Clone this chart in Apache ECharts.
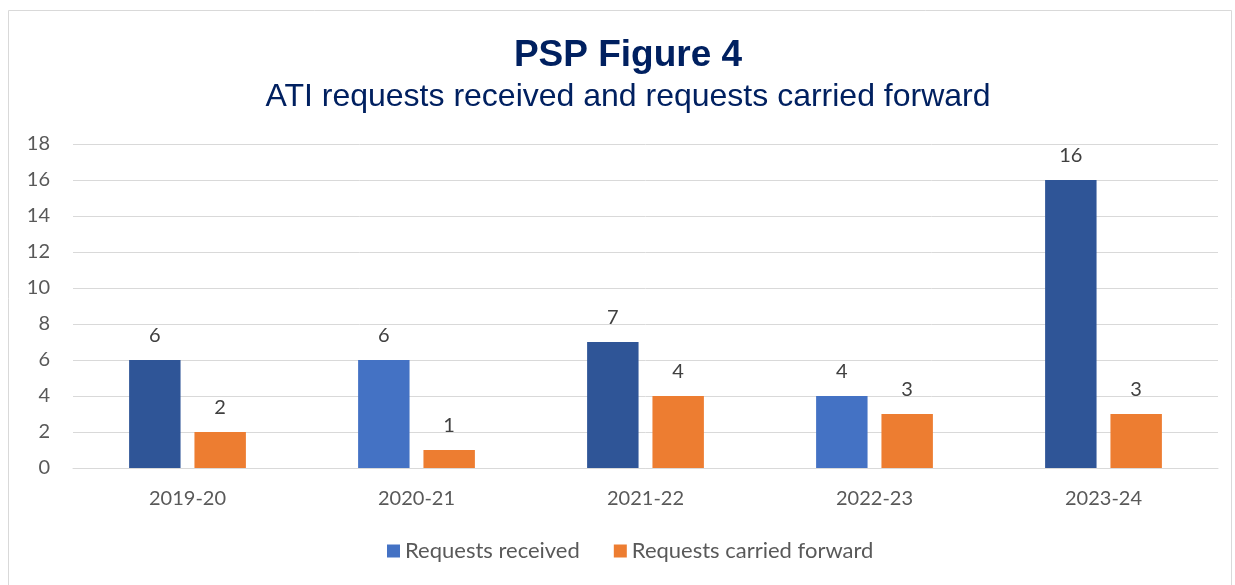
<!DOCTYPE html>
<html>
<head>
<meta charset="utf-8">
<script src="https://cdn.jsdelivr.net/npm/echarts@6/dist/echarts.min.js"></script>
<style>
  html, body { margin: 0; padding: 0; background: #fff; }
  #container { width: 1235px; height: 585px; }
</style>
</head>
<body>
<div id="container"></div>
<script>
// data
const years = ['2019-20', '2020-21', '2021-22', '2022-23', '2023-24']
const received = [6, 6, 7, 4, 16]
const carriedForward = [2, 1, 4, 3, 3]
// the received bars alternate dark / light blue in the original
const receivedColors = ['#2F5597', '#4472C4', '#2F5597', '#4472C4', '#2F5597']

let chart = echarts.init(document.getElementById('container'))
const font = 'Lato, "Open Sans", sans-serif'

chart.setOption({
  animation: false,
  textStyle: { fontFamily: font },
  graphic: [{
    type: 'rect',
    shape: { x: 8.5, y: 10.5, width: 1223, height: 620 },
    style: { fill: 'none', stroke: '#d9d9d9', lineWidth: 1 },
    silent: true
  }],
  title: [
    {
      text: 'PSP Figure 4',
      left: 623, top: 32, textAlign: 'center',
      textStyle: { fontFamily: '"Liberation Sans", Arial, sans-serif', fontSize: 37, fontWeight: 'bold', color: '#002060' }
    },
    {
      text: 'ATI requests received and requests carried forward',
      left: 623, top: 76, textAlign: 'center',
      textStyle: { fontFamily: '"Liberation Sans", Arial, sans-serif', fontSize: 32, fontWeight: 'normal', color: '#002060' }
    }
  ],
  legend: {
    bottom: 18,
    left: 382,
    itemWidth: 13, itemHeight: 13,
    itemGap: 34,
    icon: 'rect',
    textStyle: { fontSize: 22, color: '#595959', fontFamily: font },
    data: [
      { name: 'Requests received', itemStyle: { color: '#4472C4' } },
      { name: 'Requests carried forward', itemStyle: { color: '#ED7D31' } }
    ]
  },
  grid: { left: 73, right: 17, top: 144, bottom: 117 },
  xAxis: {
    type: 'category',
    data: years,
    axisTick: { show: false },
    axisLine: { lineStyle: { color: '#d9d9d9' } },
    axisLabel: { color: '#595959', fontSize: 20, margin: 21, fontFamily: font }
  },
  yAxis: {
    type: 'value',
    min: 0, max: 18, interval: 2,
    axisLabel: { color: '#595959', fontSize: 20, margin: 23, fontFamily: font },
    splitLine: { lineStyle: { color: '#d9d9d9', width: 1 } }
  },
  series: [
    {
      name: 'Requests received',
      type: 'bar',
      barGap: '27%',
      barCategoryGap: '49%',
      data: received.map((v, i) => ({ value: v, itemStyle: { color: receivedColors[i] } })),
      itemStyle: { color: '#4472C4' },
      label: { show: true, position: 'top', distance: 14, fontSize: 20, color: '#404040', fontFamily: font }
    },
    {
      name: 'Requests carried forward',
      type: 'bar',
      data: carriedForward,
      itemStyle: { color: '#ED7D31' },
      label: { show: true, position: 'top', distance: 14, fontSize: 20, color: '#404040', fontFamily: font }
    }
  ]
})
</script>
</body>
</html>
